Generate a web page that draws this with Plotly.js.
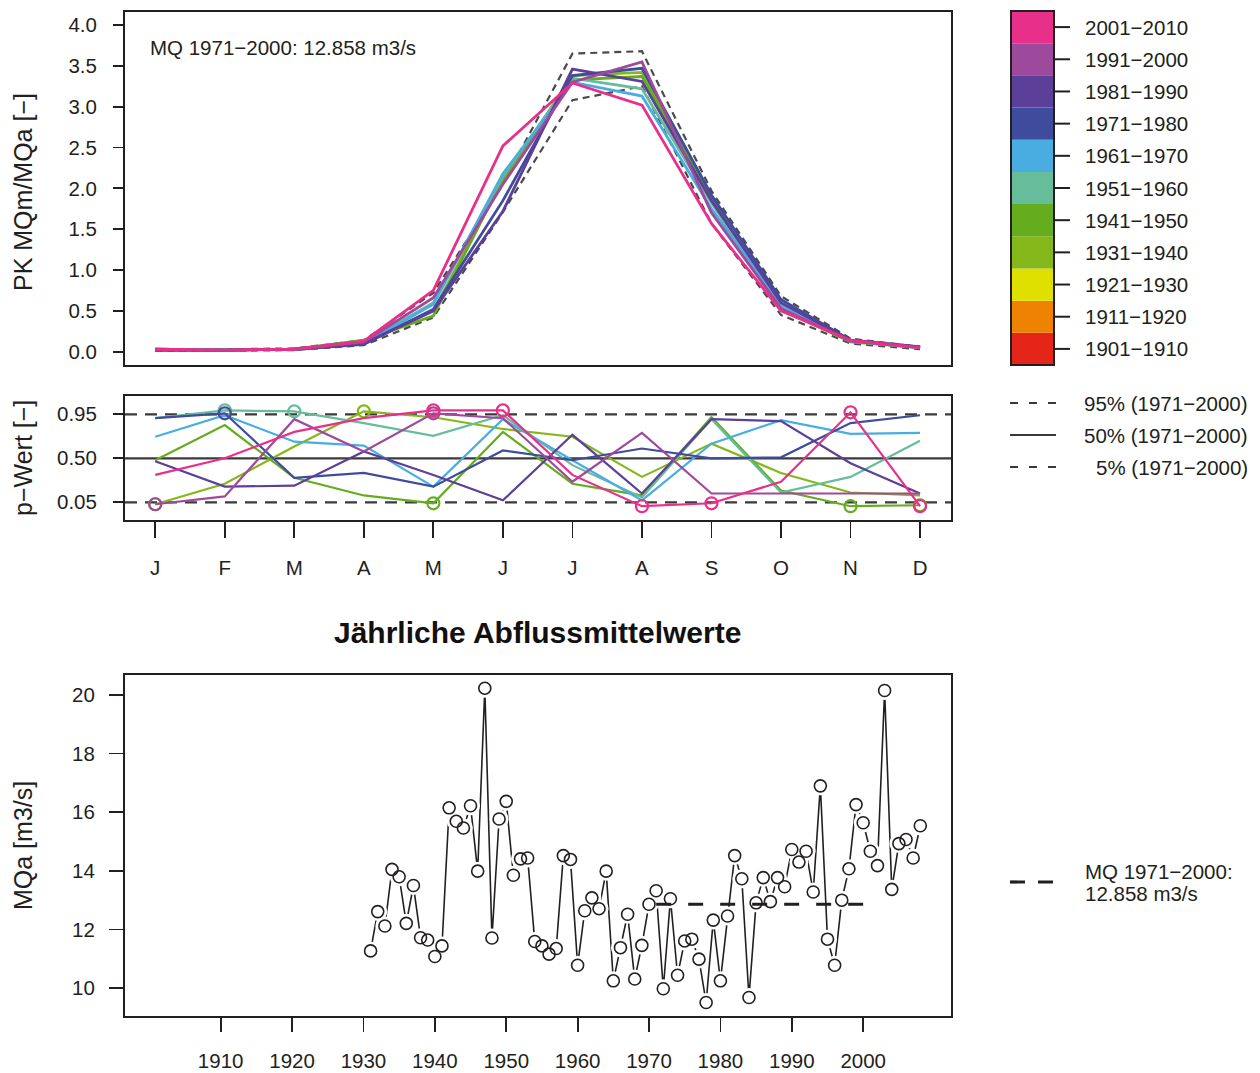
<!DOCTYPE html>
<html>
<head>
<meta charset="utf-8">
<script src="https://cdn.plot.ly/plotly-3.0.1.min.js"></script>
<style>html,body{margin:0;padding:0;background:#fff;}</style>
</head>
<body>
<div id="chart" style="width:1260px;height:1073px;"></div>
<script>
// ---------------- DATA ----------------
const months = ['J','F','M','A','M','J','J','A','S','O','N','D'];
const monthIdx = [1,2,3,4,5,6,7,8,9,10,11,12];

const decades = ['1901−1910','1911−1920','1921−1930','1931−1940','1941−1950',
                 '1951−1960','1961−1970','1971−1980','1981−1990','1991−2000','2001−2010'];
const decadeColors = ['#e42518','#ef8200','#e0e000','#84b81a','#65ad1f',
                      '#67bc9a','#49ade2','#3f4c9d','#5b3f98','#9e4a9c','#e8308a'];

// Pardé coefficients MQm/MQa per decade (decades with data: 1931-2010)
const pk_1931 = [0.03,0.02,0.03,0.12,0.50,2.10,3.38,3.42,1.85,0.55,0.13,0.05];
const pk_1941 = [0.03,0.02,0.03,0.14,0.44,2.12,3.33,3.37,1.88,0.52,0.12,0.05];
const pk_1951 = [0.03,0.02,0.03,0.11,0.60,2.15,3.35,3.22,1.82,0.55,0.13,0.05];
const pk_1961 = [0.03,0.02,0.03,0.10,0.58,2.18,3.30,3.13,1.75,0.58,0.13,0.05];
const pk_1971 = [0.02,0.02,0.03,0.09,0.52,1.85,3.38,3.47,1.92,0.64,0.14,0.06];
const pk_1981 = [0.02,0.02,0.03,0.10,0.50,1.72,3.46,3.31,1.85,0.60,0.14,0.06];
const pk_1991 = [0.02,0.02,0.03,0.12,0.66,2.05,3.30,3.55,1.70,0.53,0.13,0.05];
const pk_2001 = [0.03,0.02,0.03,0.13,0.75,2.52,3.29,3.02,1.57,0.50,0.14,0.05];
// reference band 1971-2000
const pk_q95 = [0.03,0.03,0.04,0.14,0.72,2.06,3.65,3.68,1.97,0.68,0.16,0.06];
const pk_q05 = [0.01,0.01,0.02,0.08,0.42,1.71,3.08,3.25,1.57,0.45,0.10,0.03];

// p-values per decade
const pw_1931 = [0.03,0.24,0.62,0.98,0.92,0.80,0.72,0.31,0.65,0.35,0.15,0.12];
const pw_1941 = [0.48,0.84,0.30,0.12,0.04,0.77,0.24,0.12,0.92,0.17,0.01,0.02];
const pw_1951 = [0.91,0.99,0.98,0.86,0.73,0.94,0.43,0.10,0.90,0.15,0.31,0.68];
const pw_1961 = [0.72,0.94,0.67,0.63,0.21,0.90,0.48,0.07,0.65,0.89,0.75,0.76];
const pw_1971 = [0.91,0.96,0.30,0.35,0.21,0.58,0.48,0.60,0.50,0.51,0.86,0.94];
const pw_1981 = [0.47,0.21,0.22,0.57,0.33,0.07,0.74,0.14,0.90,0.88,0.45,0.14];
const pw_1991 = [0.03,0.11,0.90,0.57,0.96,0.91,0.26,0.76,0.14,0.14,0.14,0.14];
const pw_2001 = [0.33,0.50,0.77,0.91,0.99,0.99,0.33,0.01,0.04,0.26,0.97,0.01];
const pLevels = [0.95, 0.50, 0.05];
const pTickText = ['0.95','0.50','0.05'];

// annual mean discharge
const years = [1931,1932,1933,1934,1935,1936,1937,1938,1939,1940,
               1941,1942,1943,1944,1945,1946,1947,1948,1949,1950,
               1951,1952,1953,1954,1955,1956,1957,1958,1959,1960,
               1961,1962,1963,1964,1965,1966,1967,1968,1969,1970,
               1971,1972,1973,1974,1975,1976,1977,1978,1979,1980,
               1981,1982,1983,1984,1985,1986,1987,1988,1989,1990,
               1991,1992,1993,1994,1995,1996,1997,1998,1999,2000,
               2001,2002,2003,2004,2005,2006,2007,2008];
const mqa = [11.27,12.61,12.12,14.05,13.80,12.21,13.50,11.72,11.64,11.08,
             11.44,16.15,15.69,15.46,16.22,13.99,20.23,11.71,15.77,16.37,
             13.85,14.41,14.44,11.59,11.44,11.16,11.35,14.52,14.39,10.78,
             12.64,13.08,12.71,13.99,10.25,11.38,12.52,10.31,11.46,12.86,
             13.32, 9.98,13.05,10.44,11.61,11.67,10.99, 9.51,12.32,10.25,
             12.46,14.52,13.73, 9.68,12.91,13.77,12.95,13.77,13.46,14.73,
             14.30,14.67,13.28,16.90,11.67,10.78,13.00,14.07,16.26,15.64,
             14.67,14.18,20.15,13.37,14.93,15.07,14.44,15.54];
const mq = 12.858;
const mqPeriod = [1971, 2000];
const yearTicks = [1910,1920,1930,1940,1950,1960,1970,1980,1990,2000];
const mqaTicks = [10,12,14,16,18,20];
const pkTicks = [0,0.5,1,1.5,2,2.5,3,3.5,4];
const quantLabels = ['95% (1971−2000)','50% (1971−2000)','5% (1971−2000)'];

// ---------------- DRAW ----------------
const W = 1260, H = 1073;
const px = x => x / W;
const py = y => 1 - y / H;
const INK = '#231f20';
const FONT = '"Liberation Sans", Arial, sans-serif';
const FS = 20.5;

const seriesTop = [pk_1931,pk_1941,pk_1951,pk_1961,pk_1971,pk_1981,pk_1991,pk_2001];
const seriesP   = [pw_1931,pw_1941,pw_1951,pw_1961,pw_1971,pw_1981,pw_1991,pw_2001];
const sColors = decadeColors.slice(3);
const sNames = decades.slice(3);

const traces = [];
const base = {type:'scatter', hoverinfo:'skip', showlegend:false};

// top panel: reference band
[pk_q95, pk_q05].forEach(v => traces.push(Object.assign({}, base, {
  x: monthIdx, y: v, mode:'lines', xaxis:'x', yaxis:'y',
  line:{color:'#4a4a4a', width:2.2, dash:'7px,5px'}
})));
seriesTop.forEach((v,i) => traces.push(Object.assign({}, base, {
  x: monthIdx, y: v, mode:'lines', xaxis:'x', yaxis:'y', name: sNames[i],
  line:{color: sColors[i], width:2.8}
})));

// middle panel: p-values
seriesP.forEach((v,i) => {
  traces.push(Object.assign({}, base, {
    x: monthIdx, y: v, mode:'lines', xaxis:'x2', yaxis:'y2', name: sNames[i],
    line:{color: sColors[i], width:2.2}
  }));
  const mx = [], my = [];
  v.forEach((p,j) => { if (p > 0.95 || p < 0.05) { mx.push(monthIdx[j]); my.push(p); } });
  traces.push(Object.assign({}, base, {
    x: mx, y: my, mode:'markers', xaxis:'x2', yaxis:'y2',
    marker:{symbol:'circle-open', size:12, color: sColors[i], line:{width:2.2, color: sColors[i]}}
  }));
});

// bottom panel
traces.push(Object.assign({}, base, {
  x: years, y: mqa, mode:'lines', xaxis:'x3', yaxis:'y3',
  line:{color: INK, width:1.6}
}));
traces.push(Object.assign({}, base, {
  x: years, y: mqa, mode:'markers', xaxis:'x3', yaxis:'y3',
  marker:{symbol:'circle', size:19, color:'#ffffff', line:{width:0}}
}));
traces.push(Object.assign({}, base, {
  x: years, y: mqa, mode:'markers', xaxis:'x3', yaxis:'y3',
  marker:{symbol:'circle-open', size:12, color: INK, line:{width:1.6, color: INK}}
}));
traces.push(Object.assign({}, base, {
  x: mqPeriod, y: [mq, mq], mode:'lines', xaxis:'x3', yaxis:'y3',
  line:{color: INK, width:3, dash:'15px,17px'}
}));

const XDOM = [px(125), px(951)];
const axisCommon = {
  showline:true, mirror:true, linecolor: INK, linewidth:2,
  showgrid:false, zeroline:false, ticks:'outside', tickcolor: INK,
  tickwidth:1.8, tickfont:{family: FONT, size: FS, color: INK}
};

const shapes = [];
const annotations = [];

// p-level reference lines
pLevels.forEach((v,i) => shapes.push({
  type:'line', xref:'x2 domain', yref:'y2', x0:0, x1:1, y0:v, y1:v, layer:'below',
  line:{color:'#3a3a3a', width:2.2, dash: i === 1 ? 'solid' : '12px,8px'}
}));

// colour-bar legend
const segH = (365 - 11) / decades.length;
decades.forEach((d,i) => {
  const k = decades.length - 1 - i;     // newest on top
  const y0 = 11 + k * segH, y1 = y0 + segH;
  shapes.push({type:'rect', xref:'paper', yref:'paper', x0:px(1011), x1:px(1054),
    y0:py(y1), y1:py(y0), fillcolor: decadeColors[i], line:{width:0}});
  const yc = (y0 + y1) / 2;
  shapes.push({type:'line', xref:'paper', yref:'paper', x0:px(1054), x1:px(1070),
    y0:py(yc), y1:py(yc), line:{color: INK, width:2}});
  annotations.push({xref:'paper', yref:'paper', x:px(1083), y:py(yc), text:d,
    showarrow:false, xanchor:'left', yanchor:'middle', font:{family:FONT, size:FS, color:INK}});
});
shapes.push({type:'rect', xref:'paper', yref:'paper', x0:px(1011), x1:px(1054),
  y0:py(365), y1:py(11), line:{color: INK, width:2}});

// quantile legend
const qy = [403, 435, 467];
quantLabels.forEach((t,i) => {
  shapes.push({type:'line', xref:'paper', yref:'paper', x0:px(1010), x1:px(1056),
    y0:py(qy[i]), y1:py(qy[i]), line:{color:'#3a3a3a', width:2, dash: i === 1 ? 'solid' : '8px,11px'}});
  annotations.push({xref:'paper', yref:'paper', x:px(1250), y:py(qy[i]), text:t,
    showarrow:false, xanchor:'right', yanchor:'middle', font:{family:FONT, size:FS, color:INK}});
});

// MQ legend (bottom)
shapes.push({type:'line', xref:'paper', yref:'paper', x0:px(1010), x1:px(1056),
  y0:py(882), y1:py(882), line:{color: INK, width:3.2, dash:'15px,13px'}});
annotations.push({xref:'paper', yref:'paper', x:px(1083), y:py(871), text:'MQ 1971−2000:',
  showarrow:false, xanchor:'left', yanchor:'middle', font:{family:FONT, size:FS, color:INK}});
annotations.push({xref:'paper', yref:'paper', x:px(1083), y:py(893), text: mq.toFixed(3) + ' m3/s',
  showarrow:false, xanchor:'left', yanchor:'middle', font:{family:FONT, size:FS, color:INK}});

// panel text
annotations.push({xref:'paper', yref:'paper', x:px(148), y:py(47),
  text:'MQ 1971−2000: ' + mq.toFixed(3) + ' m3/s', showarrow:false, xanchor:'left', yanchor:'middle',
  font:{family:FONT, size:FS, color:INK}});
annotations.push({xref:'paper', yref:'paper', x:px(537), y:py(632),
  text:'<b>Jährliche Abflussmittelwerte</b>', showarrow:false, xanchor:'center', yanchor:'middle',
  font:{family:FONT, size:30, color:'#111'}});
// y-axis titles
[['PK MQm/MQa [−]',192],['p−Wert [−]',458],['MQa [m3/s]',846]].forEach(([t,yc]) =>
  annotations.push({xref:'paper', yref:'paper', x:px(23), y:py(yc), text:t, textangle:-90,
    showarrow:false, xanchor:'center', yanchor:'middle', font:{family:FONT, size:25, color:INK}}));

const layout = {
  width: W, height: H,
  margin:{l:0, r:0, t:0, b:0},
  paper_bgcolor:'#ffffff', plot_bgcolor:'#ffffff',
  showlegend:false,
  font:{family: FONT, color: INK},
  xaxis: Object.assign({}, axisCommon, {domain: XDOM, range:[0.565,12.445], anchor:'y',
    showticklabels:false, ticks:''}),
  yaxis: Object.assign({}, axisCommon, {domain:[py(365), py(12)], range:[-0.163,4.16], anchor:'x',
    tickvals: pkTicks, tickformat:'.1f', ticklen:10, ticklabelstandoff:12}),
  xaxis2: Object.assign({}, axisCommon, {domain: XDOM, range:[0.565,12.445], anchor:'y2',
    tickvals: monthIdx, ticktext: months, ticklen:16, ticklabelstandoff:12}),
  yaxis2: Object.assign({}, axisCommon, {domain:[py(520), py(396)], range:[-0.131,1.137], anchor:'x2',
    tickvals: pLevels, ticktext: pTickText, ticklen:10, ticklabelstandoff:12}),
  xaxis3: Object.assign({}, axisCommon, {domain: XDOM, range:[1896.6,2012.3], anchor:'y3',
    tickvals: yearTicks, ticklen:14, ticklabelstandoff:11}),
  yaxis3: Object.assign({}, axisCommon, {domain:[py(1016), py(675)], range:[9.05,20.68], anchor:'x3',
    tickvals: mqaTicks, ticklen:14, ticklabelstandoff:10}),
  shapes: shapes,
  annotations: annotations
};

Plotly.newPlot('chart', traces, layout, {displayModeBar:false, staticPlot:true});
</script>
</body>
</html>
